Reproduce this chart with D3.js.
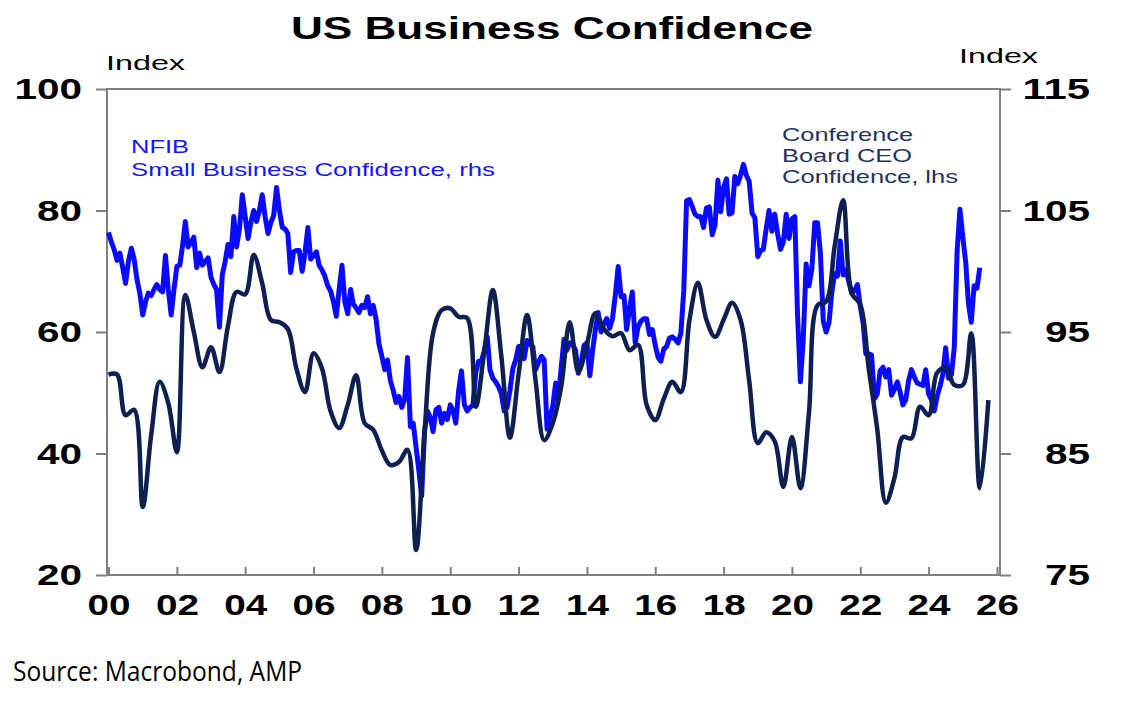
<!DOCTYPE html>
<html lang="en">
<head>
<meta charset="UTF-8">
<title>US Business Confidence</title>
<script src="https://cdn.jsdelivr.net/npm/d3@7"></script>
<style>
  body { margin: 0; background: #fff; }
  svg text { font-family: "Liberation Sans", Arial, sans-serif; }
</style>
</head>
<body>
<svg id="chart" width="1126" height="703"></svg>
<script>
// NFIB small business optimism, monthly from Jan 2000 (rhs)
var nfibStartYear = 2000;
var nfib = [
  103.2, 102.4, 101.8, 100.9, 101.5, 100.3, 99.0, 100.8, 101.9, 101.0, 99.3, 98.2,
  96.4, 97.5, 98.2, 98.0, 98.5, 98.9, 98.5, 98.3, 101.3, 98.5, 96.4, 98.5,
  100.4, 100.5, 102.0, 104.1, 102.0, 102.4, 102.8, 100.3, 101.5, 100.5, 100.8, 101.1,
  99.5, 98.9, 98.5, 95.4, 99.7, 100.8, 102.2, 101.2, 104.5, 102.0, 103.5, 106.3,
  104.5, 102.7, 104.0, 105.0, 104.1, 105.0, 106.3, 104.5, 103.1, 104.0, 104.6, 106.9,
  105.0, 103.6, 103.5, 103.1, 99.9, 101.6, 101.7, 101.7, 100.0, 101.5, 103.6, 101.0,
  101.3, 101.6, 100.5, 100.1, 99.6, 98.8, 98.4, 97.5, 96.3, 98.5, 100.5, 97.5,
  96.5, 98.5, 97.3, 97.0, 96.6, 97.2, 97.0, 97.9, 96.5, 97.2, 96.0, 94.0,
  93.0, 91.9, 92.7, 91.0, 90.2, 89.2, 89.7, 88.8, 89.5, 92.9, 87.2, 87.5,
  85.5, 83.5, 81.5, 86.8, 88.5, 88.0, 86.8, 88.6, 88.8, 87.5, 88.3, 87.8,
  89.0, 88.5, 87.5, 90.2, 91.8, 89.0, 88.5, 88.8, 89.0, 91.7, 92.6, 92.6,
  93.5, 94.6, 91.9, 91.2, 90.9, 90.5, 89.9, 88.5, 88.8, 90.2, 92.0, 92.7,
  93.8, 93.8, 92.8, 94.3, 94.0, 93.8, 91.9, 92.5, 93.0, 92.7, 87.0, 88.0,
  88.9, 90.8, 89.5, 92.1, 94.4, 93.5, 94.1, 94.0, 93.5, 91.6, 92.5, 93.9,
  94.1, 91.4, 93.4, 95.2, 96.6, 95.0, 95.7, 96.1, 95.3, 96.1, 98.1, 100.4,
  97.9, 98.0, 95.2, 96.9, 98.3, 94.1, 95.4, 95.9, 96.1, 96.1, 94.8, 95.2,
  93.9, 92.9, 92.6, 93.6, 93.8, 94.5, 94.6, 94.4, 94.1, 94.9, 98.4, 105.8,
  105.9, 105.3, 104.7, 104.5, 104.5, 103.6, 105.2, 105.3, 103.0, 103.8, 107.5, 104.9,
  106.9, 107.6, 104.7, 104.8, 107.8, 107.2, 107.9, 108.8, 107.9, 107.4, 104.8, 104.4,
  101.2, 101.7, 101.8, 103.5, 105.0, 103.3, 104.7, 103.1, 101.8, 102.4, 104.7, 102.7,
  104.3, 104.5, 96.4, 90.9, 94.4, 100.6, 98.8, 100.2, 104.0, 104.0, 101.4, 95.9,
  95.0, 95.8, 98.2, 99.8, 99.6, 102.5, 99.7, 100.1, 99.1, 98.2, 98.4, 98.9,
  97.1, 95.7, 93.2, 93.2, 93.1, 89.5, 89.9, 91.8, 92.1, 91.3, 91.9, 89.8,
  90.3, 90.9, 90.1, 89.0, 89.4, 91.0, 91.9, 91.3, 90.8, 90.7, 90.6, 91.9,
  89.9, 89.4, 88.5, 89.7, 90.5, 91.5, 93.7, 91.2, 91.5, 93.7, 101.7, 105.1,
  102.8, 100.7, 97.4, 95.8, 98.8, 98.6, 100.3
];

// Conference Board CEO confidence, quarterly from Q4 1999 (lhs)
var ceoStartYear = 2000;
var ceo = [
  53, 53, 46.3, 47.2, 31.2, 43, 51.8, 48.3, 40.2, 66.1,
  60, 54.2, 57.5, 53.4, 61, 66.6, 66.2, 72.7, 68, 62,
  61.6, 60.5, 54, 50.1, 56.5, 54, 47, 44.2, 48, 52.9,
  45, 43.9, 40.5, 38.1, 38.6, 40.6, 24.1, 43.4, 59.8, 63.6,
  63.9, 62.5, 62.3, 47.7, 57, 66.9, 56, 42.6, 53, 62.8,
  52, 42.2, 45, 51, 61.6, 53.4, 58, 63.1, 60.5, 59.3,
  59.8, 57, 57.9, 48, 45.5, 49, 51.8, 50.1, 62, 68.1,
  62, 59.2, 62, 64.8, 62, 52, 41.7, 43.5, 42, 34.5,
  42.7, 34.3, 46.7, 64.4, 65, 74, 81.7, 66.4, 64.5, 54,
  44, 31.9, 36, 42.7, 42.5, 47.7, 46.3, 53.3, 54.1, 51.3,
  51.3, 59.8, 34.3, 48.8
];

var leftTicks = [20, 40, 60, 80, 100];
var rightTicks = [75, 85, 95, 105, 115];
var yearTicks = d3.range(2000, 2027, 2);

var svg = d3.select("#chart");

var x = d3.scaleTime()
    .domain([new Date(2000, 0, 1), new Date(2026, 0, 1)])
    .range([108.5, 997]);
var yL = d3.scaleLinear().domain([20, 100]).range([575, 89]);
var yR = d3.scaleLinear().domain([75, 115]).range([575, 89]);

var nfibData = nfib.map(function(v, i){ return {date: new Date(nfibStartYear, i, 1), value: v}; });
var ceoData = ceo.map(function(v, i){ return {date: new Date(ceoStartYear, i * 3, 1), value: v}; });

// stretch text to the wide look of the original
function stretch(sel, perChar) {
  sel.attr("textLength", function(){ return this.textContent.length * perChar; })
     .attr("lengthAdjust", "spacingAndGlyphs");
}

// frame
svg.append("rect")
    .attr("x", 107).attr("y", 89)
    .attr("width", 1000 - 107).attr("height", 575 - 89)
    .attr("fill", "none").attr("stroke", "#7f7f7f").attr("stroke-width", 2);

// axes
var gl = svg.append("g").attr("transform", "translate(107,0)")
    .call(d3.axisLeft(yL).tickValues(leftTicks).tickSize(11).tickPadding(14));
var gr = svg.append("g").attr("transform", "translate(1000,0)")
    .call(d3.axisRight(yR).tickValues(rightTicks).tickSize(11).tickPadding(14));
var gb = svg.append("g").attr("transform", "translate(0,575)")
    .call(d3.axisBottom(x)
        .tickValues(yearTicks.map(function(y){ return new Date(y, 0, 1); }))
        .tickFormat(d3.timeFormat("%y"))
        .tickSizeInner(-8).tickSizeOuter(0).tickPadding(19));

[gl, gr, gb].forEach(function(g){
  g.select(".domain").remove();
  g.selectAll(".tick line").attr("stroke", "#7f7f7f").attr("stroke-width", 2);
  g.selectAll(".tick text")
      .attr("fill", "#000")
      .style("font-size", "30px")
      .style("font-weight", "bold")
      .style("font-family", "'Liberation Sans', Arial, sans-serif");
});
gr.selectAll(".tick text").attr("text-anchor", "end").attr("x", 90);
stretch(gl.selectAll(".tick text"), 22.5);
stretch(gr.selectAll(".tick text"), 22.5);
stretch(gb.selectAll(".tick text"), 21.5);

// series
var lineR = d3.line()
    .x(function(d){ return x(d.date); })
    .y(function(d){ return yR(d.value); });
var lineL = d3.line()
    .x(function(d){ return x(d.date); })
    .y(function(d){ return yL(d.value); })
    .curve(d3.curveCatmullRom.alpha(0.5));

svg.append("path").datum(nfibData)
    .attr("d", lineR)
    .attr("fill", "none").attr("stroke", "#0a0aff")
    .attr("stroke-width", 5).attr("stroke-linejoin", "round");

svg.append("path").datum(ceoData)
    .attr("d", lineL)
    .attr("fill", "none").attr("stroke", "#0e1f52")
    .attr("stroke-width", 4.5).attr("stroke-linejoin", "round");

// titles and labels
svg.append("text")
    .attr("x", 552).attr("y", 39).attr("text-anchor", "middle")
    .style("font-size", "31px").style("font-weight", "bold")
    .attr("textLength", 522).attr("lengthAdjust", "spacingAndGlyphs")
    .text("US Business Confidence");

svg.append("text").attr("x", 106).attr("y", 70)
    .style("font-size", "21px")
    .attr("textLength", 79).attr("lengthAdjust", "spacingAndGlyphs")
    .text("Index");
svg.append("text").attr("x", 959).attr("y", 63)
    .style("font-size", "21px")
    .attr("textLength", 79).attr("lengthAdjust", "spacingAndGlyphs")
    .text("Index");

var nfibLabel = [["NFIB", 153, 58], ["Small Business Confidence, rhs", 176, 364]];
nfibLabel.forEach(function(l){
  svg.append("text").attr("x", 131).attr("y", l[1])
      .attr("fill", "#1414ff").style("font-size", "18.5px")
      .attr("textLength", l[2]).attr("lengthAdjust", "spacingAndGlyphs")
      .text(l[0]);
});

var ceoLabel = [["Conference", 141, 131], ["Board CEO", 162, 130], ["Confidence, lhs", 183, 176]];
ceoLabel.forEach(function(l){
  svg.append("text").attr("x", 782).attr("y", l[1])
      .attr("fill", "#1f3463").style("font-size", "18.5px")
      .attr("textLength", l[2]).attr("lengthAdjust", "spacingAndGlyphs")
      .text(l[0]);
});

svg.append("text").attr("x", 13).attr("y", 681)
    .style("font-family", "'Open Sans', sans-serif").style("font-size", "28px")
    .attr("textLength", 289).attr("lengthAdjust", "spacingAndGlyphs")
    .text("Source: Macrobond, AMP");
</script>
</body>
</html>
